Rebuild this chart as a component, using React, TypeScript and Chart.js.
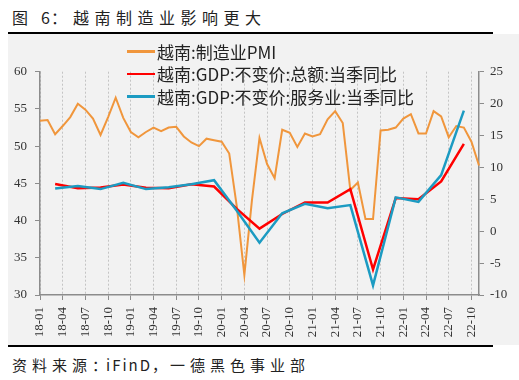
import React, { useEffect, useRef } from "react";
import { Chart, registerables } from "chart.js";

Chart.register(...registerables);

const months = [
  "18-01","18-02","18-03","18-04","18-05","18-06","18-07","18-08","18-09","18-10","18-11","18-12",
  "19-01","19-02","19-03","19-04","19-05","19-06","19-07","19-08","19-09","19-10","19-11","19-12",
  "20-01","20-02","20-03","20-04","20-05","20-06","20-07","20-08","20-09","20-10","20-11","20-12",
  "21-01","21-02","21-03","21-04","21-05","21-06","21-07","21-08","21-09","21-10","21-11","21-12",
  "22-01","22-02","22-03","22-04","22-05","22-06","22-07","22-08","22-09","22-10","22-11",
];

const pmi = [
  53.4, 53.5, 51.6, 52.7, 53.9, 55.7, 54.9, 53.7, 51.5, 53.9, 56.5, 53.8,
  51.9, 51.2, 51.9, 52.5, 52.0, 52.5, 52.6, 51.3, 50.5, 50.0, 51.0, 50.8,
  50.6, 49.0, 41.9, 32.7, 42.7, 51.1, 47.6, 45.7, 52.2, 51.8, 49.9, 51.7,
  51.3, 51.6, 53.6, 54.7, 53.1, 44.1, 45.1, 40.2, 40.2, 52.1, 52.2, 52.5,
  53.7, 54.3, 51.7, 51.7, 54.7, 54.0, 51.2, 52.7, 52.5, 50.6, 47.4,
];

const gdpQuarters = [
  "18-03","18-06","18-09","18-12",
  "19-03","19-06","19-09","19-12",
  "20-03","20-06","20-09","20-12",
  "21-03","21-06","21-09","21-12",
  "22-03","22-06","22-09",
];

const gdpTotal = [
  7.4, 6.75, 6.85, 7.3,
  6.8, 6.75, 7.35, 7.0,
  3.5, 0.4, 2.7, 4.5,
  4.5, 6.6, -6.0, 5.2,
  5.0, 7.8, 13.7,
];

const gdpServices = [
  6.7, 7.1, 6.6, 7.6,
  6.6, 6.9, 7.35, 8.0,
  3.2, -1.8, 2.8, 4.3,
  3.6, 4.1, -8.5, 5.3,
  4.6, 8.8, 18.9,
];

const leftTicks = { min: 30, max: 60, step: 5 };
const rightTicks = { min: -10, max: 25, step: 5 };

const legendLabels = [
  "越南:制造业PMI",
  "越南:GDP:不变价:总额:当季同比",
  "越南:GDP:不变价:服务业:当季同比",
];
const colors = ["#F0963C", "#FF0000", "#1C9BC2"];

function toMonthly(values: number[]): (number | null)[] {
  return months.map((m) => {
    const k = gdpQuarters.indexOf(m);
    return k >= 0 ? values[k] : null;
  });
}

const AXIS = "#8c8c8c";
const TXT = "#333333";
const serif = { family: "'Liberation Serif', 'Times New Roman', serif", size: 13 };
const CJK = "'Noto Sans CJK SC', 'Noto Sans', sans-serif";

export default function App() {
  const ref = useRef<HTMLCanvasElement | null>(null);

  useEffect(() => {
    if (!ref.current) return;
    const chart = new Chart(ref.current, {
      type: "line",
      data: {
        labels: months,
        datasets: [
          {
            label: legendLabels[0],
            data: pmi,
            borderColor: colors[0],
            backgroundColor: colors[0],
            borderWidth: 2,
            pointRadius: 0,
            tension: 0,
            yAxisID: "y",
            order: 3,
          },
          {
            label: legendLabels[1],
            data: toMonthly(gdpTotal),
            borderColor: colors[1],
            backgroundColor: colors[1],
            borderWidth: 2.5,
            pointRadius: 0,
            spanGaps: true,
            tension: 0,
            yAxisID: "y1",
            order: 2,
          },
          {
            label: legendLabels[2],
            data: toMonthly(gdpServices),
            borderColor: colors[2],
            backgroundColor: colors[2],
            borderWidth: 2.5,
            pointRadius: 0,
            spanGaps: true,
            tension: 0,
            yAxisID: "y1",
            order: 1,
          },
        ],
      },
      options: {
        responsive: false,
        maintainAspectRatio: false,
        animation: false,
        layout: { padding: { top: 37.7, left: 0, right: 0, bottom: 0 } },
        plugins: { legend: { display: false }, title: { display: false }, tooltip: { enabled: false } },
        scales: {
          x: {
            type: "category",
            offset: false,
            afterBuildTicks: (scale: any) => {
              scale.ticks = scale.ticks.filter((t: any) => t.value % 3 === 0);
            },
            afterFit: (scale: any) => {
              scale.height = 50;
            },
            ticks: {
              autoSkip: false,
              minRotation: 90,
              maxRotation: 90,
              padding: 7,
              font: serif,
              color: TXT,
            },
            grid: {
              color: "#c4c4c4",
              lineWidth: 1,
              drawOnChartArea: true,
              tickLength: 5,
              tickColor: AXIS,
            },
            border: { color: AXIS, width: 1.5, dash: [2, 2] },
          },
          y: {
            position: "left",
            min: leftTicks.min,
            max: leftTicks.max,
            afterFit: (scale: any) => {
              scale.width = 32;
            },
            ticks: { stepSize: leftTicks.step, padding: 8, font: serif, color: TXT },
            grid: { drawOnChartArea: false, tickLength: 5, tickColor: AXIS },
            border: { color: AXIS, width: 1.5 },
          },
          y1: {
            position: "right",
            min: rightTicks.min,
            max: rightTicks.max,
            afterFit: (scale: any) => {
              scale.width = 40;
            },
            ticks: { stepSize: rightTicks.step, padding: 6, font: serif, color: TXT },
            grid: { drawOnChartArea: false, tickLength: 5, tickColor: AXIS },
            border: { color: AXIS, width: 1.5 },
          },
        },
      },
    } as any);
    return () => chart.destroy();
  }, []);

  const legendRows = [51.5, 74, 96.5];

  return (
    <div style={{ position: "absolute", left: 0, top: 0, width: 519, height: 380, background: "#ffffff", overflow: "hidden" }}>
      <div style={{ position: "absolute", left: 12, top: 7, fontFamily: CJK, fontSize: 16, lineHeight: "20px", color: "#222" }}>图</div>
      <div style={{ position: "absolute", left: 41, top: 7, fontFamily: CJK, fontSize: 16, lineHeight: "20px", color: "#222", letterSpacing: 1 }}>6：</div>
      <div style={{ position: "absolute", left: 73, top: 7, fontFamily: CJK, fontSize: 16, lineHeight: "20px", color: "#222", letterSpacing: "5.5px", whiteSpace: "nowrap" }}>越南制造业影响更大</div>
      <div style={{ position: "absolute", left: 8, top: 31.5, width: 485, height: 2, background: "#000" }} />
      <div style={{ position: "absolute", left: 8, top: 34, width: 511, height: 311, background: "#f2f2f2" }}>
        <canvas ref={ref} width={511} height={311} style={{ display: "block", width: 511, height: 311 }} />
      </div>
      {legendLabels.map((t, i) => (
        <React.Fragment key={t}>
          <div style={{ position: "absolute", left: 127, top: legendRows[i] - 1.25, width: 28, height: 2.5, background: colors[i] }} />
          <div style={{ position: "absolute", left: 157, top: legendRows[i] - 11, fontFamily: CJK, fontSize: 17, lineHeight: "22px", color: "#222", whiteSpace: "nowrap" }}>{t}</div>
        </React.Fragment>
      ))}
      <div style={{ position: "absolute", left: 8, top: 345, width: 485, height: 2, background: "#000" }} />
      <div style={{ position: "absolute", left: 12, top: 355, fontFamily: CJK, fontSize: 15, lineHeight: "20px", color: "#222", letterSpacing: "5px", whiteSpace: "nowrap" }}>资料来源：</div>
      <div style={{ position: "absolute", left: 106, top: 355, fontFamily: CJK, fontSize: 15, lineHeight: "20px", color: "#222", letterSpacing: "2px", whiteSpace: "nowrap" }}>iFinD，</div>
      <div style={{ position: "absolute", left: 170, top: 355, fontFamily: CJK, fontSize: 15, lineHeight: "20px", color: "#222", letterSpacing: "5px", whiteSpace: "nowrap" }}>一德黑色事业部</div>
    </div>
  );
}
